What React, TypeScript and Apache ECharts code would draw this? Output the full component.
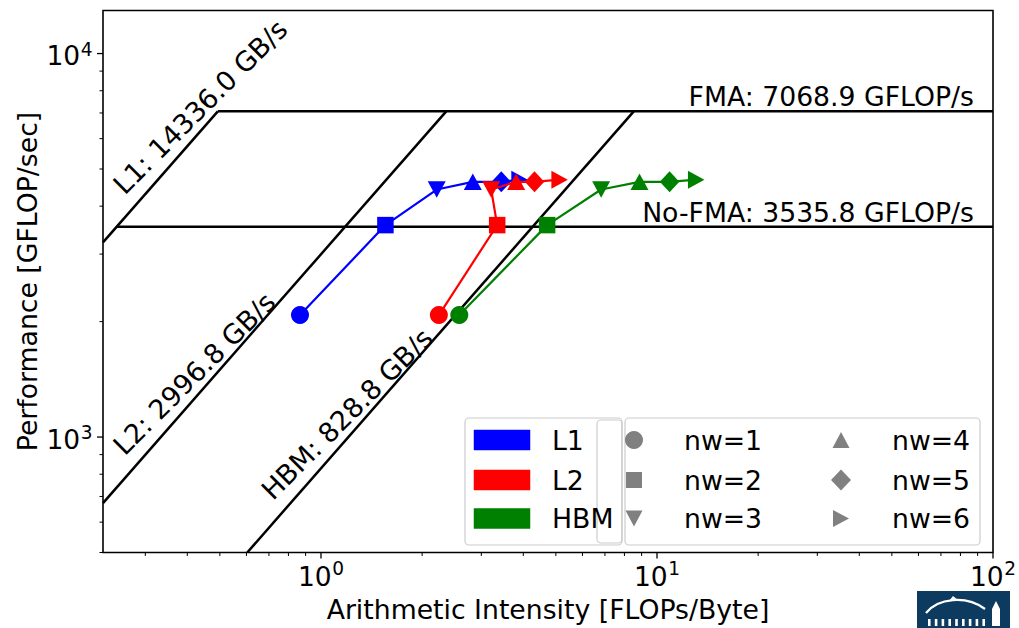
import React, { useEffect, useRef } from 'react';
import * as echarts from 'echarts';

// ---------- data ----------
const X_RANGE = [0.2245, 100];
const Y_RANGE = [500, 12950];

const MEM_NAMES = ['L1', 'L2', 'HBM'];
const MEM_BW = [14336.0, 2996.8, 828.8];
const MEM_COLORS = ['#0000ff', '#ff0000', '#008000'];
const MEM_LABEL_AI = [0.2245, 0.2245, 0.62];
const MEM_LABEL_LIFT = 1.3;

const PEAK_NAMES = ['FMA', 'No-FMA'];
const PEAK_GFLOPS = [7068.9, 3535.8];

const NW_LABELS = ['nw=1', 'nw=2', 'nw=3', 'nw=4', 'nw=5', 'nw=6'];

const L1_AI = [0.866, 1.555, 2.21, 2.83, 3.44, 3.9];
const L1_PERF = [2080, 3570, 4420, 4630, 4630, 4690];
const L2_AI = [2.243, 3.345, 3.21, 3.81, 4.32, 5.13];
const L2_PERF = [2080, 3570, 4420, 4630, 4630, 4690];
const HBM_AI = [2.58, 4.71, 6.82, 8.87, 10.9, 13.08];
const HBM_PERF = [2080, 3570, 4420, 4630, 4630, 4690];

const X_MAJOR = [1, 10, 100];
const X_MAJOR_EXP = ['0', '1', '2'];
const Y_MAJOR = [1000, 10000];
const Y_MAJOR_EXP = ['3', '4'];
const X_MINOR = [0.3, 0.4, 0.5, 0.6, 0.7, 0.8, 0.9, 2, 3, 4, 5, 6, 7, 8, 9, 20, 30, 40, 50, 60, 70, 80, 90];
const Y_MINOR = [500, 600, 700, 800, 900, 2000, 3000, 4000, 5000, 6000, 7000, 8000, 9000];

const SYMBOLS = ['circle', 'rect', 'path://M0,0L16,0L8,15Z', 'triangle', 'diamond', 'path://M0,0L15,8L0,16Z'];
const SYMBOL_SIZES: any[] = [18, 16.5, [18, 16.5], [18, 16.5], [19.5, 21], [16.5, 18]];

const FONT = 'DejaVu Sans';
const FS = 26.7;
const FS_ROOF = 27;
const FS_TICK = 26.5;

export default function App() {
  const ref = useRef<HTMLDivElement>(null);

  useEffect(() => {
    const el = ref.current as HTMLDivElement;
    const chart = echarts.init(el, null, { renderer: 'svg' });

    const roofSeries = MEM_BW.map((bw, i) => {
      const sx = Math.max(X_RANGE[0], Y_RANGE[0] / bw);
      const ex = PEAK_GFLOPS[0] / bw;
      return {
        type: 'line',
        name: MEM_NAMES[i] + ' roof',
        data: [[sx, bw * sx], [ex, bw * ex]],
        symbol: 'none',
        silent: true,
        lineStyle: { color: '#000', width: 2.5 },
        z: 2,
      };
    });
    const peakSeries = PEAK_GFLOPS.map((p, j) => ({
      type: 'line',
      name: PEAK_NAMES[j],
      data: [[p / MEM_BW[0], p], [X_RANGE[1], p]],
      symbol: 'none',
      silent: true,
      lineStyle: { color: '#000', width: 2.5 },
      z: 2,
    }));
    const sets = [
      { ai: L1_AI, perf: L1_PERF },
      { ai: L2_AI, perf: L2_PERF },
      { ai: HBM_AI, perf: HBM_PERF },
    ];
    const dataSeries = sets.map((s, i) => ({
      type: 'line',
      name: MEM_NAMES[i],
      data: s.ai.map((x, k) => ({ value: [x, s.perf[k]], symbol: SYMBOLS[k], symbolSize: SYMBOL_SIZES[k], name: NW_LABELS[k] })),
      lineStyle: { color: MEM_COLORS[i], width: 2.2 },
      itemStyle: { color: MEM_COLORS[i], borderWidth: 0 },
      showSymbol: true,
      silent: true,
      z: 3 + i,
    }));

    const axisCommon = {
      type: 'log',
      logBase: 10,
      axisLine: { show: false },
      axisTick: { show: false },
      axisLabel: { show: false },
      splitLine: { show: false },
      minorTick: { show: false },
      nameLocation: 'middle',
    };

    chart.setOption({
      animation: false,
      backgroundColor: '#ffffff',
      grid: {
        left: 103, top: 10.5, width: 890, height: 547,
        show: true, borderColor: '#000', borderWidth: 1.6, backgroundColor: 'transparent',
      },
      xAxis: {
        ...axisCommon,
        min: X_RANGE[0], max: X_RANGE[1],
        name: 'Arithmetic Intensity [FLOPs/Byte]',
        nameGap: 57,
        nameTextStyle: { fontFamily: FONT, fontSize: FS, color: '#000', align: 'center', verticalAlign: 'middle' },
      },
      yAxis: {
        ...axisCommon,
        min: Y_RANGE[0], max: Y_RANGE[1],
        name: 'Performance [GFLOP/sec]',
        nameGap: 76,
        nameRotate: 90,
        nameTextStyle: { fontFamily: FONT, fontSize: FS, color: '#000', align: 'center', verticalAlign: 'middle' },
      },
      series: [...roofSeries, ...peakSeries, ...dataSeries],
    });

    const px = (x: number, y: number) => chart.convertToPixel({ gridIndex: 0 }, [x, y]) as number[];
    const [gl, gb] = px(X_RANGE[0], Y_RANGE[0]);
    const [gr] = px(X_RANGE[1], Y_RANGE[1]);

    const g: any[] = [];
    const tickStyle = { stroke: '#000', lineWidth: 1.3 };
    const txt = (text: string, x: number, y: number, fs: number, align: string, extra: any = {}) => ({
      type: 'text', x, y, silent: true, ...extra,
      style: { text, fontFamily: FONT, fontSize: fs, fill: '#000', align, verticalAlign: 'middle', textAlign: align, textVerticalAlign: 'middle' },
    });

    // x ticks
    X_MAJOR.forEach((v, i) => {
      const [x] = px(v, Y_RANGE[0]);
      g.push({ type: 'line', silent: true, shape: { x1: x, y1: gb, x2: x, y2: gb + 6 }, style: tickStyle });
      const w10 = 1.2724 * FS_TICK;
      const wsup = 0.636 * FS_TICK * 0.7;
      const left = x - (w10 + wsup + 0.5) / 2;
      g.push(txt('10', left, gb + 33.5 - 0.35 * FS_TICK, FS_TICK, 'left'));
      g.push(txt(X_MAJOR_EXP[i], left + w10 + 0.5, gb + 22 - 0.35 * FS_TICK * 0.7, FS_TICK * 0.7, 'left'));
    });
    X_MINOR.forEach((v) => {
      const [x] = px(v, Y_RANGE[0]);
      g.push({ type: 'line', silent: true, shape: { x1: x, y1: gb, x2: x, y2: gb + 3.5 }, style: { stroke: '#000', lineWidth: 1 } });
    });
    // y ticks
    Y_MAJOR.forEach((v, i) => {
      const [, y] = px(X_RANGE[0], v);
      g.push({ type: 'line', silent: true, shape: { x1: gl - 6, y1: y, x2: gl, y2: y }, style: tickStyle });
      const wsup = 0.636 * FS_TICK * 0.7;
      const right = gl - 10.5;
      g.push(txt(Y_MAJOR_EXP[i], right - wsup, y + 2.4 - 0.35 * FS_TICK * 0.7, FS_TICK * 0.7, 'left'));
      g.push(txt('10', right - wsup - 0.5, y + 11.6 - 0.35 * FS_TICK, FS_TICK, 'right'));
    });
    Y_MINOR.forEach((v) => {
      const [, y] = px(X_RANGE[0], v);
      g.push({ type: 'line', silent: true, shape: { x1: gl - 3.5, y1: y, x2: gl, y2: y }, style: { stroke: '#000', lineWidth: 1 } });
    });

    // memory roof labels
    const ang = Math.PI / 4;
    MEM_BW.forEach((bw, i) => {
      const ai = MEM_LABEL_AI[i];
      const [ax, ay] = px(ai, bw * ai * MEM_LABEL_LIFT);
      const blx = ax + 1.164 * FS_ROOF * Math.sin(ang);
      const bly = ay;
      const bx = blx - 0.236 * FS_ROOF * Math.sin(ang);
      const by = bly - 0.236 * FS_ROOF * Math.cos(ang);
      const cx = bx - 0.35 * FS_ROOF * Math.sin(ang) + 4;
      const cy = by - 0.35 * FS_ROOF * Math.cos(ang) + 1.5;
      g.push(txt(`${MEM_NAMES[i]}: ${bw.toFixed(1)} GB/s`, cx, cy, FS_ROOF, 'left', { rotation: ang }));
    });
    // compute roof labels
    PEAK_GFLOPS.forEach((p, j) => {
      const [, y] = px(X_RANGE[1], p);
      g.push(txt(`${PEAK_NAMES[j]}: ${p.toFixed(1)} GFLOP/s`, gr - 19, y - 5 - 0.35 * FS, FS, 'right'));
    });

    // legend
    const frame = { stroke: '#cccccc', lineWidth: 1.2, fill: 'rgba(255,255,255,0.85)' };
    g.push({ type: 'rect', silent: true, z: 10, shape: { x: 465, y: 418, width: 157, height: 127, r: 4 }, style: frame });
    g.push({ type: 'rect', silent: true, z: 10, shape: { x: 625, y: 418, width: 355, height: 127, r: 4 }, style: frame });
    g.push({ type: 'rect', silent: true, z: 11, shape: { x: 597, y: 420, width: 25, height: 123, r: 4 }, style: { ...frame, fill: 'none' } });
    const rows = [440, 480, 518.5];
    MEM_NAMES.forEach((n, i) => {
      g.push({ type: 'rect', silent: true, z: 12, shape: { x: 474, y: rows[i] - 10, width: 56, height: 20 }, style: { fill: MEM_COLORS[i], stroke: MEM_COLORS[i], lineWidth: 0.5 } });
      g.push(txt(n, 552, rows[i], FS, 'left', { z: 12 }));
    });
    const gray = '#808080';
    const markerShape = (k: number, x: number, y: number) => {
      const st = { fill: gray };
      switch (k) {
        case 0: return { type: 'circle', shape: { cx: x, cy: y, r: 9 }, style: st };
        case 1: return { type: 'rect', shape: { x: x - 8, y: y - 8, width: 16, height: 16 }, style: st };
        case 2: return { type: 'polygon', shape: { points: [[x - 8.5, y - 8], [x + 8.5, y - 8], [x, y + 8]] }, style: st };
        case 3: return { type: 'polygon', shape: { points: [[x - 8.5, y + 8], [x + 8.5, y + 8], [x, y - 8]] }, style: st };
        case 4: return { type: 'polygon', shape: { points: [[x, y - 10.5], [x + 10, y], [x, y + 10.5], [x - 10, y]] }, style: st };
        default: return { type: 'polygon', shape: { points: [[x - 8, y - 8.5], [x + 8, y], [x - 8, y + 8.5]] }, style: st };
      }
    };
    NW_LABELS.forEach((lab, k) => {
      const col = k < 3 ? 0 : 1;
      const row = k % 3;
      const mx = col === 0 ? 634 : 841;
      const tx = col === 0 ? 684 : 892;
      g.push({ ...markerShape(k, mx, rows[row]), silent: true, z: 12 });
      g.push(txt(lab, tx, rows[row], FS, 'left', { z: 12 }));
    });

    // logo (bottom right)
    const logo: any[] = [
      { type: 'rect', shape: { x: 917, y: 591, width: 93, height: 40 }, style: { fill: '#0d3b5f' } },
      { type: 'bezierCurve', shape: { x1: 926, y1: 613, cpx1: 938, cpy1: 598, cpx2: 966, cpy2: 595, x2: 985, y2: 609 }, style: { stroke: '#fff', lineWidth: 2.2, fill: 'none' } },
      { type: 'polygon', shape: { points: [[949, 601], [953, 596], [958, 600]] }, style: { fill: '#fff' } },
      { type: 'rect', shape: { x: 992, y: 609, width: 8, height: 17 }, style: { fill: '#fff' } },
      { type: 'polygon', shape: { points: [[992, 609], [996, 601], [1000, 609]] }, style: { fill: '#fff' } },
    ];
    for (let k = 0; k < 9; k++) {
      logo.push({ type: 'rect', shape: { x: 928 + k * 6.8, y: 619, width: 2.6, height: 7 }, style: { fill: '#fff' } });
    }
    g.push({ type: 'group', silent: true, z: 20, children: logo });

    chart.setOption({ graphic: g });

    return () => {
      chart.dispose();
    };
  }, []);

  return (
    <div
      ref={ref}
      style={{ position: 'fixed', left: 0, top: 0, width: 1019, height: 628, background: '#fff' }}
    />
  );
}
